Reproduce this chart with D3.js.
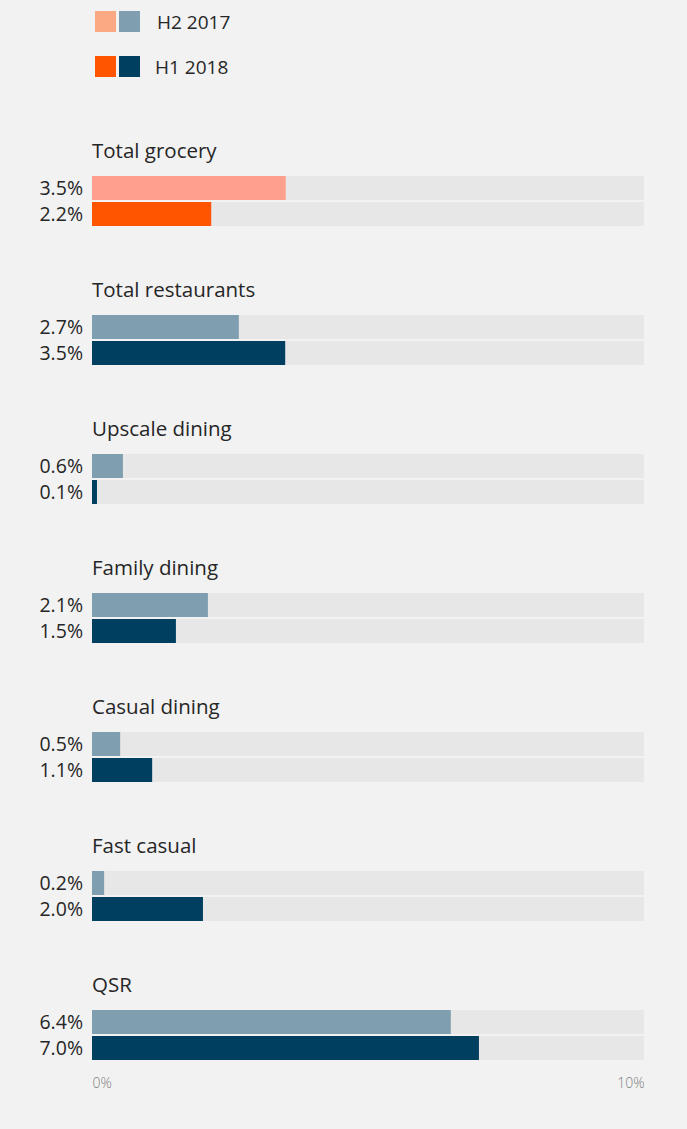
<!DOCTYPE html>
<html>
<head>
<meta charset="utf-8">
<script src="https://cdn.jsdelivr.net/npm/d3@7"></script>
<style>
  body { margin: 0; background: #f2f2f2; }
  svg { display: block; font-family: "Open Sans", "Lato", sans-serif; }
</style>
</head>
<body>
<div id="chart"></div>
<script>
// categories and values (labels as printed)
const categories = ["Total grocery", "Total restaurants", "Upscale dining", "Family dining",
    "Casual dining", "Fast casual", "QSR"];
const h2Values = [3.51, 2.66, 0.56, 2.1, 0.51, 0.22, 6.5];
const h1Values = [2.16, 3.5, 0.09, 1.52, 1.09, 2.01, 7.01];
const h2Labels = ["3.5%", "2.7%", "0.6%", "2.1%", "0.5%", "0.2%", "6.4%"];
const h1Labels = ["2.2%", "3.5%", "0.1%", "1.5%", "1.1%", "2.0%", "7.0%"];
const seriesNames = ["H2 2017", "H1 2018"];
const axisTicks = [0, 10];

const width = 687, height = 1129;
const left = 92, right = 644;
const top0 = 176, groupStep = 139, barH = 24, barGap = 2;

// grocery gets the orange pair, restaurant rows the blue pair
const colors = {
    grocery: {h2: "#ffa08f", h1: "#ff5400"},
    rest: {h2: "#7f9fb1", h1: "#003f5f"}
};
const legendColors = [["#fba983", "#7f9fb1"], ["#ff5400", "#003f5f"]];
const textColor = "#262626";

const svg = d3.select("#chart").append("svg")
    .attr("width", width)
    .attr("height", height);

svg.append("rect").attr("width", width).attr("height", height).attr("fill", "#f2f2f2");

const x = d3.scaleLinear().domain([0, 10]).range([left, right]);

// legend
const legend = svg.append("g");
seriesNames.forEach((name, i) => {
    const g = legend.append("g").attr("transform", `translate(95,${11 + i * 45})`);
    legendColors[i].forEach((c, j) => {
        g.append("rect").attr("x", j * 24).attr("width", 21).attr("height", 21).attr("fill", c);
    });
    g.append("text")
        .attr("x", i == 0 ? 62 : 60)
        .attr("y", 18)
        .attr("font-size", 19)
        .attr("fill", textColor)
        .text(name);
});

// groups
const rows = categories.map((c, i) => ({
    name: c,
    vals: [h2Values[i], h1Values[i]],
    labels: [h2Labels[i], h1Labels[i]],
    pal: i == 0 ? colors.grocery : colors.rest
}));

const groups = svg.selectAll(".group")
    .data(rows)
    .enter().append("g")
    .attr("class", "group")
    .attr("transform", (d, i) => `translate(0,${top0 + i * groupStep})`);

groups.append("text")
    .attr("x", 92)
    .attr("y", -18)
    .attr("font-size", 20.5)
    .attr("fill", textColor)
    .text(d => d.name);

[0, 1].forEach(k => {
    const yOff = k * (barH + barGap);
    groups.append("rect")
        .attr("x", x(0))
        .attr("y", yOff)
        .attr("width", x(10) - x(0))
        .attr("height", barH)
        .attr("fill", "#e7e7e7");
    groups.append("rect")
        .attr("x", x(0))
        .attr("y", yOff)
        .attr("width", d => x(d.vals[k]) - x(0))
        .attr("height", barH)
        .attr("fill", d => k == 0 ? d.pal.h2 : d.pal.h1);
    groups.append("text")
        .attr("x", 83)
        .attr("y", yOff + 18.5)
        .attr("text-anchor", "end")
        .attr("font-size", 19.5)
        .attr("fill", textColor)
        .text(d => d.labels[k]);
});

// axis labels
const lastY = top0 + (categories.length - 1) * groupStep + 2 * barH + barGap;
const axis = d3.axisBottom(x).tickValues(axisTicks).tickFormat(d => d + "%").tickSize(0);
const axisG = svg.append("g")
    .attr("transform", `translate(0,${lastY + 15})`)
    .call(axis);
axisG.select(".domain").remove();
axisG.selectAll("text")
    .attr("font-family", "'Open Sans', Lato, sans-serif")
    .attr("font-weight", 300)
    .attr("font-size", 14)
    .attr("fill", "#808080")
    .attr("text-anchor", (d, i) => i == 0 ? "start" : "end");
</script>
</body>
</html>
